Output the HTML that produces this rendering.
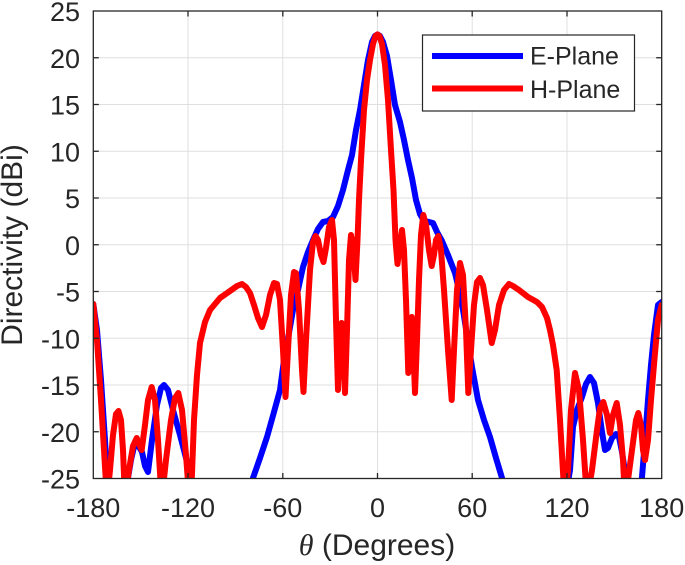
<!DOCTYPE html>
<html>
<head>
<meta charset="utf-8">
<style>
html,body{margin:0;padding:0;background:#fff;}
svg{display:block;}
text{font-family:"Liberation Sans",Arial,sans-serif;fill:#262626;}
</style>
</head>
<body>
<svg width="685" height="565" viewBox="0 0 685 565" xmlns="http://www.w3.org/2000/svg">
<defs>
<clipPath id="pa"><rect x="93.3" y="11" width="568.4" height="467.5"/></clipPath>
</defs>
<rect x="0" y="0" width="685" height="565" fill="#fff"/>
<!-- grid -->
<g stroke="#dfdfdf" stroke-width="1">
<line x1="188" y1="11" x2="188" y2="478.5"/>
<line x1="282.8" y1="11" x2="282.8" y2="478.5"/>
<line x1="377.5" y1="11" x2="377.5" y2="478.5"/>
<line x1="472.2" y1="11" x2="472.2" y2="478.5"/>
<line x1="567" y1="11" x2="567" y2="478.5"/>
<line x1="93.3" y1="57.75" x2="661.7" y2="57.75"/>
<line x1="93.3" y1="104.5" x2="661.7" y2="104.5"/>
<line x1="93.3" y1="151.25" x2="661.7" y2="151.25"/>
<line x1="93.3" y1="198" x2="661.7" y2="198"/>
<line x1="93.3" y1="244.75" x2="661.7" y2="244.75"/>
<line x1="93.3" y1="291.5" x2="661.7" y2="291.5"/>
<line x1="93.3" y1="338.25" x2="661.7" y2="338.25"/>
<line x1="93.3" y1="385" x2="661.7" y2="385"/>
<line x1="93.3" y1="431.75" x2="661.7" y2="431.75"/>
</g>
<!-- curves -->
<g clip-path="url(#pa)" fill="none" stroke-width="6" stroke-linejoin="round" stroke-linecap="round">
<polyline stroke="#0000ff" points="93.3,304 97,330 101,380 105,440 108,495 124,495 128,478 131,460 134,447 138,445 142,452 145,466 148,472 152,440 157,405 161,388 164,385 168,390 173,410 180,435 186,458 192,480 195,495"/>
<polyline stroke="#0000ff" points="250,495 253,478 260,458 267,437 274,412 280,390 284,360 289,333 293,310 298,290 303,267 308,252 313,240 318,229 323,222 328,221 333,217 338,206 343,190 348,170 352,155 356,130 360,110 364,85 368,60 372,42 375,36 377.5,34.5 380,36 383,42 387,56 391,80 395,105 400,122 404,140 408,160 412,178 416,200 420,214 424,221 429,222 433,223 437,232 442,241 448,255 455,273 459,290 463,310 467,335 472,367 478,400 484,420 490,437 496,458 502,478 505,495"/>
<polyline stroke="#0000ff" points="566,495 570,470 573,427 577,410 582,397 586,384 590,377 594,383 598,403 602,432 605,450 608,448 612,438 616,434 619,437 622,452 626,478 628,495 640,495 642,477 645,440 648,400 651,365 654,335 658,305 661.7,302"/>
<polyline stroke="#ff0000" points="93.3,304 97,340 101,400 104,450 107,500 110,470 113,435 116,414 118.5,411 121,420 123,450 125,500 129,470 133,446 136.7,438 139,444 141.7,450 145,425 148,400 151.7,387 155,400 158,440 161.7,500 166,460 171,420 175,398 178.3,393 182,410 186,455 189,495 191,500 194,420 197,375 200,343 205,322 210,310 220,298 230,291 237,286 242,284 246,287 250,293 254,305 258,318 262,327 266,315 270,295 274,283 277,284 280,300 283,350 285.5,397 288,350 291,295 294,272 296,273 299,310 302,370 303.5,392 306,340 310,270 313,242 315.5,236 318,240 321,255 323.5,262 326,248 329,227 332,220 334,240 336,320 338,390 340,340 341.5,323 343,340 345,393 347,330 349,260 351,235 353,245 355.5,280 357.5,240 359,200 361,160 364,110 367,80 370,60 373,44 375.5,36 377.5,34.5 379.5,36 382,44 385,65 388,100 391,150 393.5,190 395.5,240 397.5,264 400,245 402,230 404,250 406,300 408.3,373 410,340 411.7,317 413,340 415,393 417,340 419,280 421,235 423.3,215 426,225 429,250 431.7,266 434,255 436,240 438.3,236 441,250 444,290 448,350 451.7,400 454,350 457,290 460,263 463,275 466,330 468.3,393 471,350 474,305 477,282 480,278 483,285 487,310 491.7,343 495,330 499,305 504,290 509,284 513,286 519,290 528,297 537,302 542,307 547,318 550,330 553,345 556.7,370 560,420 563.3,477 565,500 568,470 571,410 575,373 579,390 583,440 587,500 592,470 597,430 600,408 603.3,402 607,415 610,433 613,415 616.7,403 620,425 623,460 625,500 628,480 632,450 636,420 638.3,413 641,425 643,450 645,460 648,440 651,400 655,353 658,320 661.7,305"/>
</g>
<!-- axes box -->
<rect x="93.3" y="11" width="568.4" height="467.5" fill="none" stroke="#262626" stroke-width="1.3"/>
<!-- ticks -->
<g stroke="#262626" stroke-width="1.3">
<line x1="188" y1="478.5" x2="188" y2="473"/><line x1="188" y1="11" x2="188" y2="16.5"/>
<line x1="282.8" y1="478.5" x2="282.8" y2="473"/><line x1="282.8" y1="11" x2="282.8" y2="16.5"/>
<line x1="377.5" y1="478.5" x2="377.5" y2="473"/><line x1="377.5" y1="11" x2="377.5" y2="16.5"/>
<line x1="472.2" y1="478.5" x2="472.2" y2="473"/><line x1="472.2" y1="11" x2="472.2" y2="16.5"/>
<line x1="567" y1="478.5" x2="567" y2="473"/><line x1="567" y1="11" x2="567" y2="16.5"/>
<line x1="93.3" y1="57.75" x2="98.8" y2="57.75"/><line x1="661.7" y1="57.75" x2="656.2" y2="57.75"/>
<line x1="93.3" y1="104.5" x2="98.8" y2="104.5"/><line x1="661.7" y1="104.5" x2="656.2" y2="104.5"/>
<line x1="93.3" y1="151.25" x2="98.8" y2="151.25"/><line x1="661.7" y1="151.25" x2="656.2" y2="151.25"/>
<line x1="93.3" y1="198" x2="98.8" y2="198"/><line x1="661.7" y1="198" x2="656.2" y2="198"/>
<line x1="93.3" y1="244.75" x2="98.8" y2="244.75"/><line x1="661.7" y1="244.75" x2="656.2" y2="244.75"/>
<line x1="93.3" y1="291.5" x2="98.8" y2="291.5"/><line x1="661.7" y1="291.5" x2="656.2" y2="291.5"/>
<line x1="93.3" y1="338.25" x2="98.8" y2="338.25"/><line x1="661.7" y1="338.25" x2="656.2" y2="338.25"/>
<line x1="93.3" y1="385" x2="98.8" y2="385"/><line x1="661.7" y1="385" x2="656.2" y2="385"/>
<line x1="93.3" y1="431.75" x2="98.8" y2="431.75"/><line x1="661.7" y1="431.75" x2="656.2" y2="431.75"/>
</g>
<!-- y tick labels -->
<g font-size="27" text-anchor="end">
<text x="80" y="21">25</text>
<text x="80" y="67.75">20</text>
<text x="80" y="114.5">15</text>
<text x="80" y="161.25">10</text>
<text x="80" y="208">5</text>
<text x="80" y="254.75">0</text>
<text x="80" y="301.5">-5</text>
<text x="80" y="348.25">-10</text>
<text x="80" y="395">-15</text>
<text x="80" y="441.75">-20</text>
<text x="80" y="488.5">-25</text>
</g>
<!-- x tick labels -->
<g font-size="27" text-anchor="middle">
<text x="93.3" y="517">-180</text>
<text x="188" y="517">-120</text>
<text x="282.8" y="517">-60</text>
<text x="377.5" y="517">0</text>
<text x="472.2" y="517">60</text>
<text x="567" y="517">120</text>
<text x="661.7" y="517">180</text>
</g>
<!-- axis labels -->
<text x="377" y="555" font-size="30" text-anchor="middle"><tspan font-family="Liberation Serif, serif" font-style="italic">θ</tspan> (Degrees)</text>
<text transform="translate(22,245) rotate(-90)" font-size="30" text-anchor="middle">Directivity (dBi)</text>
<!-- legend -->
<rect x="422.5" y="35" width="212" height="76" fill="#fff" stroke="#262626" stroke-width="1.2"/>
<line x1="432" y1="56" x2="523" y2="56" stroke="#0000ff" stroke-width="6"/>
<line x1="432" y1="88.5" x2="523" y2="88.5" stroke="#ff0000" stroke-width="6"/>
<text x="530" y="64.5" font-size="25" fill="#000">E-Plane</text>
<text x="530" y="98" font-size="25" fill="#000">H-Plane</text>
</svg>
</body>
</html>
